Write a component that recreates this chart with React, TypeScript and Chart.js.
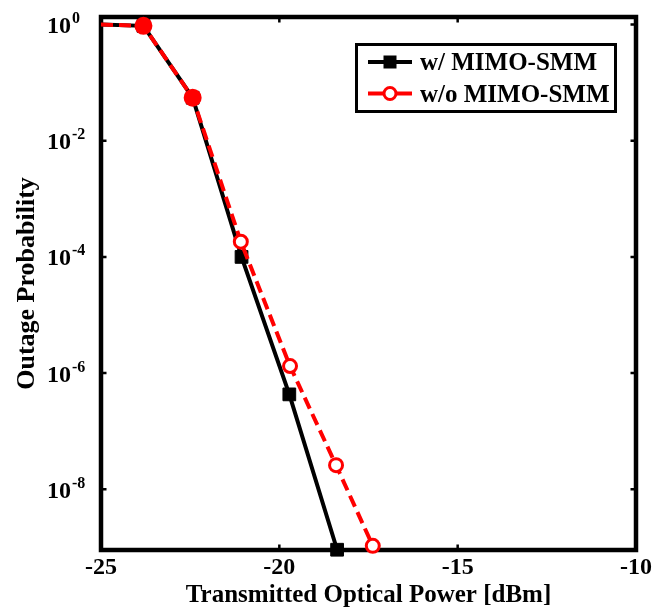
import { useEffect, useRef } from 'react';
import { Chart, registerables } from 'chart.js';

Chart.register(...registerables);

// ---- data ----
const withMimoX = [-25, -23.81, -22.43, -21.06, -19.72, -18.38];
const withMimoY = [1.0, 0.95, 0.055, 1.0e-4, 4.3e-7, 9.1e-10];
const withoutMimoX = [-25, -23.81, -22.43, -21.08, -19.7, -18.41, -17.38];
const withoutMimoY = [1.0, 0.95, 0.055, 1.83e-4, 1.32e-6, 2.6e-8, 1.06e-9];
const seriesLabels = ['w/ MIMO-SMM', 'w/o MIMO-SMM'];
const xTickValues = [-25, -20, -15, -10];
const yTickExponents = [0, -2, -4, -6, -8];
const xTitle = 'Transmitted Optical Power [dBm]';
const yTitle = 'Outage Probability';

const FONT = "'Liberation Serif', 'Times New Roman', Times, serif";

const framePlugin = {
  id: 'frameTicks',
  beforeDatasetsDraw(chart: any) {
    const { ctx, chartArea: a, scales } = chart;
    ctx.save();
    ctx.strokeStyle = '#000';
    ctx.lineWidth = 2.5;
    ctx.beginPath();
    const tl = 5.5;
    xTickValues.forEach((v) => {
      const px = scales.x.getPixelForValue(v);
      ctx.moveTo(px, a.bottom);
      ctx.lineTo(px, a.bottom - tl);
      ctx.moveTo(px, a.top);
      ctx.lineTo(px, a.top + tl);
    });
    yTickExponents.forEach((e) => {
      const py = scales.y.getPixelForValue(Math.pow(10, e));
      ctx.moveTo(a.left, py);
      ctx.lineTo(a.left + tl, py);
      ctx.moveTo(a.right, py);
      ctx.lineTo(a.right - tl, py);
    });
    ctx.stroke();
    ctx.lineWidth = 4.5;
    ctx.strokeRect(a.left, a.top, a.right - a.left, a.bottom - a.top);
    ctx.restore();
  },
  afterDraw(chart: any) {
    const { ctx, scales } = chart;
    ctx.save();
    ctx.fillStyle = '#000';
    // y tick labels with superscript exponents
    yTickExponents.forEach((e) => {
      const py = scales.y.getPixelForValue(Math.pow(10, e));
      ctx.font = `bold 24px ${FONT}`;
      ctx.textAlign = 'right';
      ctx.textBaseline = 'alphabetic';
      ctx.fillText('10', 71, py + 8.5);
      ctx.font = `bold 16px ${FONT}`;
      ctx.textAlign = 'left';
      ctx.fillText(String(e), 72, py - 1.5);
    });

    // legend
    ctx.lineWidth = 3;
    ctx.strokeStyle = '#000';
    ctx.fillStyle = '#fff';
    ctx.fillRect(356.5, 44.5, 259, 67);
    ctx.strokeRect(356.5, 44.5, 259, 67);

    const rows = [62, 93.5];
    // row 1
    ctx.beginPath();
    ctx.lineWidth = 4;
    ctx.strokeStyle = '#000';
    ctx.moveTo(368, rows[0]);
    ctx.lineTo(412, rows[0]);
    ctx.stroke();
    ctx.fillStyle = '#000';
    ctx.fillRect(390 - 6.5, rows[0] - 6.5, 13, 13);
    // row 2
    ctx.beginPath();
    ctx.strokeStyle = '#ff0000';
    ctx.moveTo(368, rows[1]);
    ctx.lineTo(412, rows[1]);
    ctx.stroke();
    ctx.beginPath();
    ctx.lineWidth = 3;
    ctx.fillStyle = '#fff';
    ctx.arc(390, rows[1], 6, 0, Math.PI * 2);
    ctx.fill();
    ctx.stroke();

    ctx.fillStyle = '#000';
    ctx.font = `bold 25px ${FONT}`;
    ctx.textAlign = 'left';
    ctx.textBaseline = 'alphabetic';
    ctx.fillText(seriesLabels[0], 420, 69.5);
    ctx.fillText(seriesLabels[1], 420, 101.5);
    ctx.restore();
  },
};

export default function App() {
  const ref = useRef<HTMLCanvasElement | null>(null);
  useEffect(() => {
    if (!ref.current) return;
    const redFill = withoutMimoX.map((_, i) => (i === 1 || i === 2 ? '#ff0000' : '#ffffff'));
    const chart = new Chart(ref.current, {
      type: 'line',
      data: {
        datasets: [
          {
            label: seriesLabels[0],
            data: withMimoX.map((x, i) => ({ x, y: withMimoY[i] })),
            borderColor: '#000',
            backgroundColor: '#000',
            borderWidth: 4,
            pointStyle: 'rect',
            pointRadius: withMimoX.map((_, i) => (i === 0 ? 0 : 9)),
            pointBorderWidth: 1,
            pointBorderColor: '#000',
            pointBackgroundColor: '#000',
            tension: 0,
            order: 1,
            clip: false as any,
          },
          {
            label: seriesLabels[1],
            data: withoutMimoX.map((x, i) => ({ x, y: withoutMimoY[i] })),
            borderColor: '#ff0000',
            backgroundColor: '#ff0000',
            borderWidth: 4,
            borderDash: [12, 6],
            pointStyle: 'circle',
            pointRadius: withoutMimoX.map((_, i) => (i === 0 ? 0 : i < 3 ? 7.5 : 6.5)),
            pointBorderWidth: 3,
            pointBorderColor: '#ff0000',
            pointBackgroundColor: redFill,
            tension: 0,
            order: 0,
            clip: false as any,
          },
        ],
      },
      options: {
        animation: false,
        responsive: true,
        maintainAspectRatio: false,
        layout: { padding: { top: 17, right: 31, left: 0, bottom: 0 } },
        plugins: { legend: { display: false }, tooltip: { enabled: false } },
        scales: {
          x: {
            type: 'linear',
            min: -25,
            max: -10,
            afterBuildTicks: (s: any) => {
              s.ticks = xTickValues.map((v) => ({ value: v }));
            },
            afterFit: (s: any) => {
              s.height = 58;
            },
            ticks: {
              color: '#000',
              font: { family: FONT, size: 24, weight: 'bold', lineHeight: 1 },
              padding: -2,
              maxRotation: 0,
              autoSkip: false,
            },
            grid: { display: false },
            border: { display: false },
            title: {
              display: true,
              text: xTitle,
              color: '#000',
              font: { family: FONT, size: 25, weight: 'bold', lineHeight: 1 },
              padding: { top: 0, bottom: 0 },
            },
          },
          y: {
            type: 'logarithmic',
            min: 9.0e-10,
            max: 1.35,
            afterBuildTicks: (s: any) => {
              s.ticks = yTickExponents.map((e) => ({ value: Math.pow(10, e) }));
            },
            afterFit: (s: any) => {
              s.width = 101;
            },
            ticks: { display: false },
            grid: { display: false },
            border: { display: false },
            title: {
              display: true,
              text: yTitle,
              color: '#000',
              font: { family: FONT, size: 26, weight: 'bold', lineHeight: 1 },
              padding: { top: 14, bottom: 0 },
            },
          },
        },
      },
      plugins: [framePlugin],
    });
    return () => chart.destroy();
  }, []);

  return (
    <div style={{ position: 'fixed', left: 0, top: 0, width: 667, height: 608, background: '#fff' }}>
      <canvas ref={ref} />
    </div>
  );
}
